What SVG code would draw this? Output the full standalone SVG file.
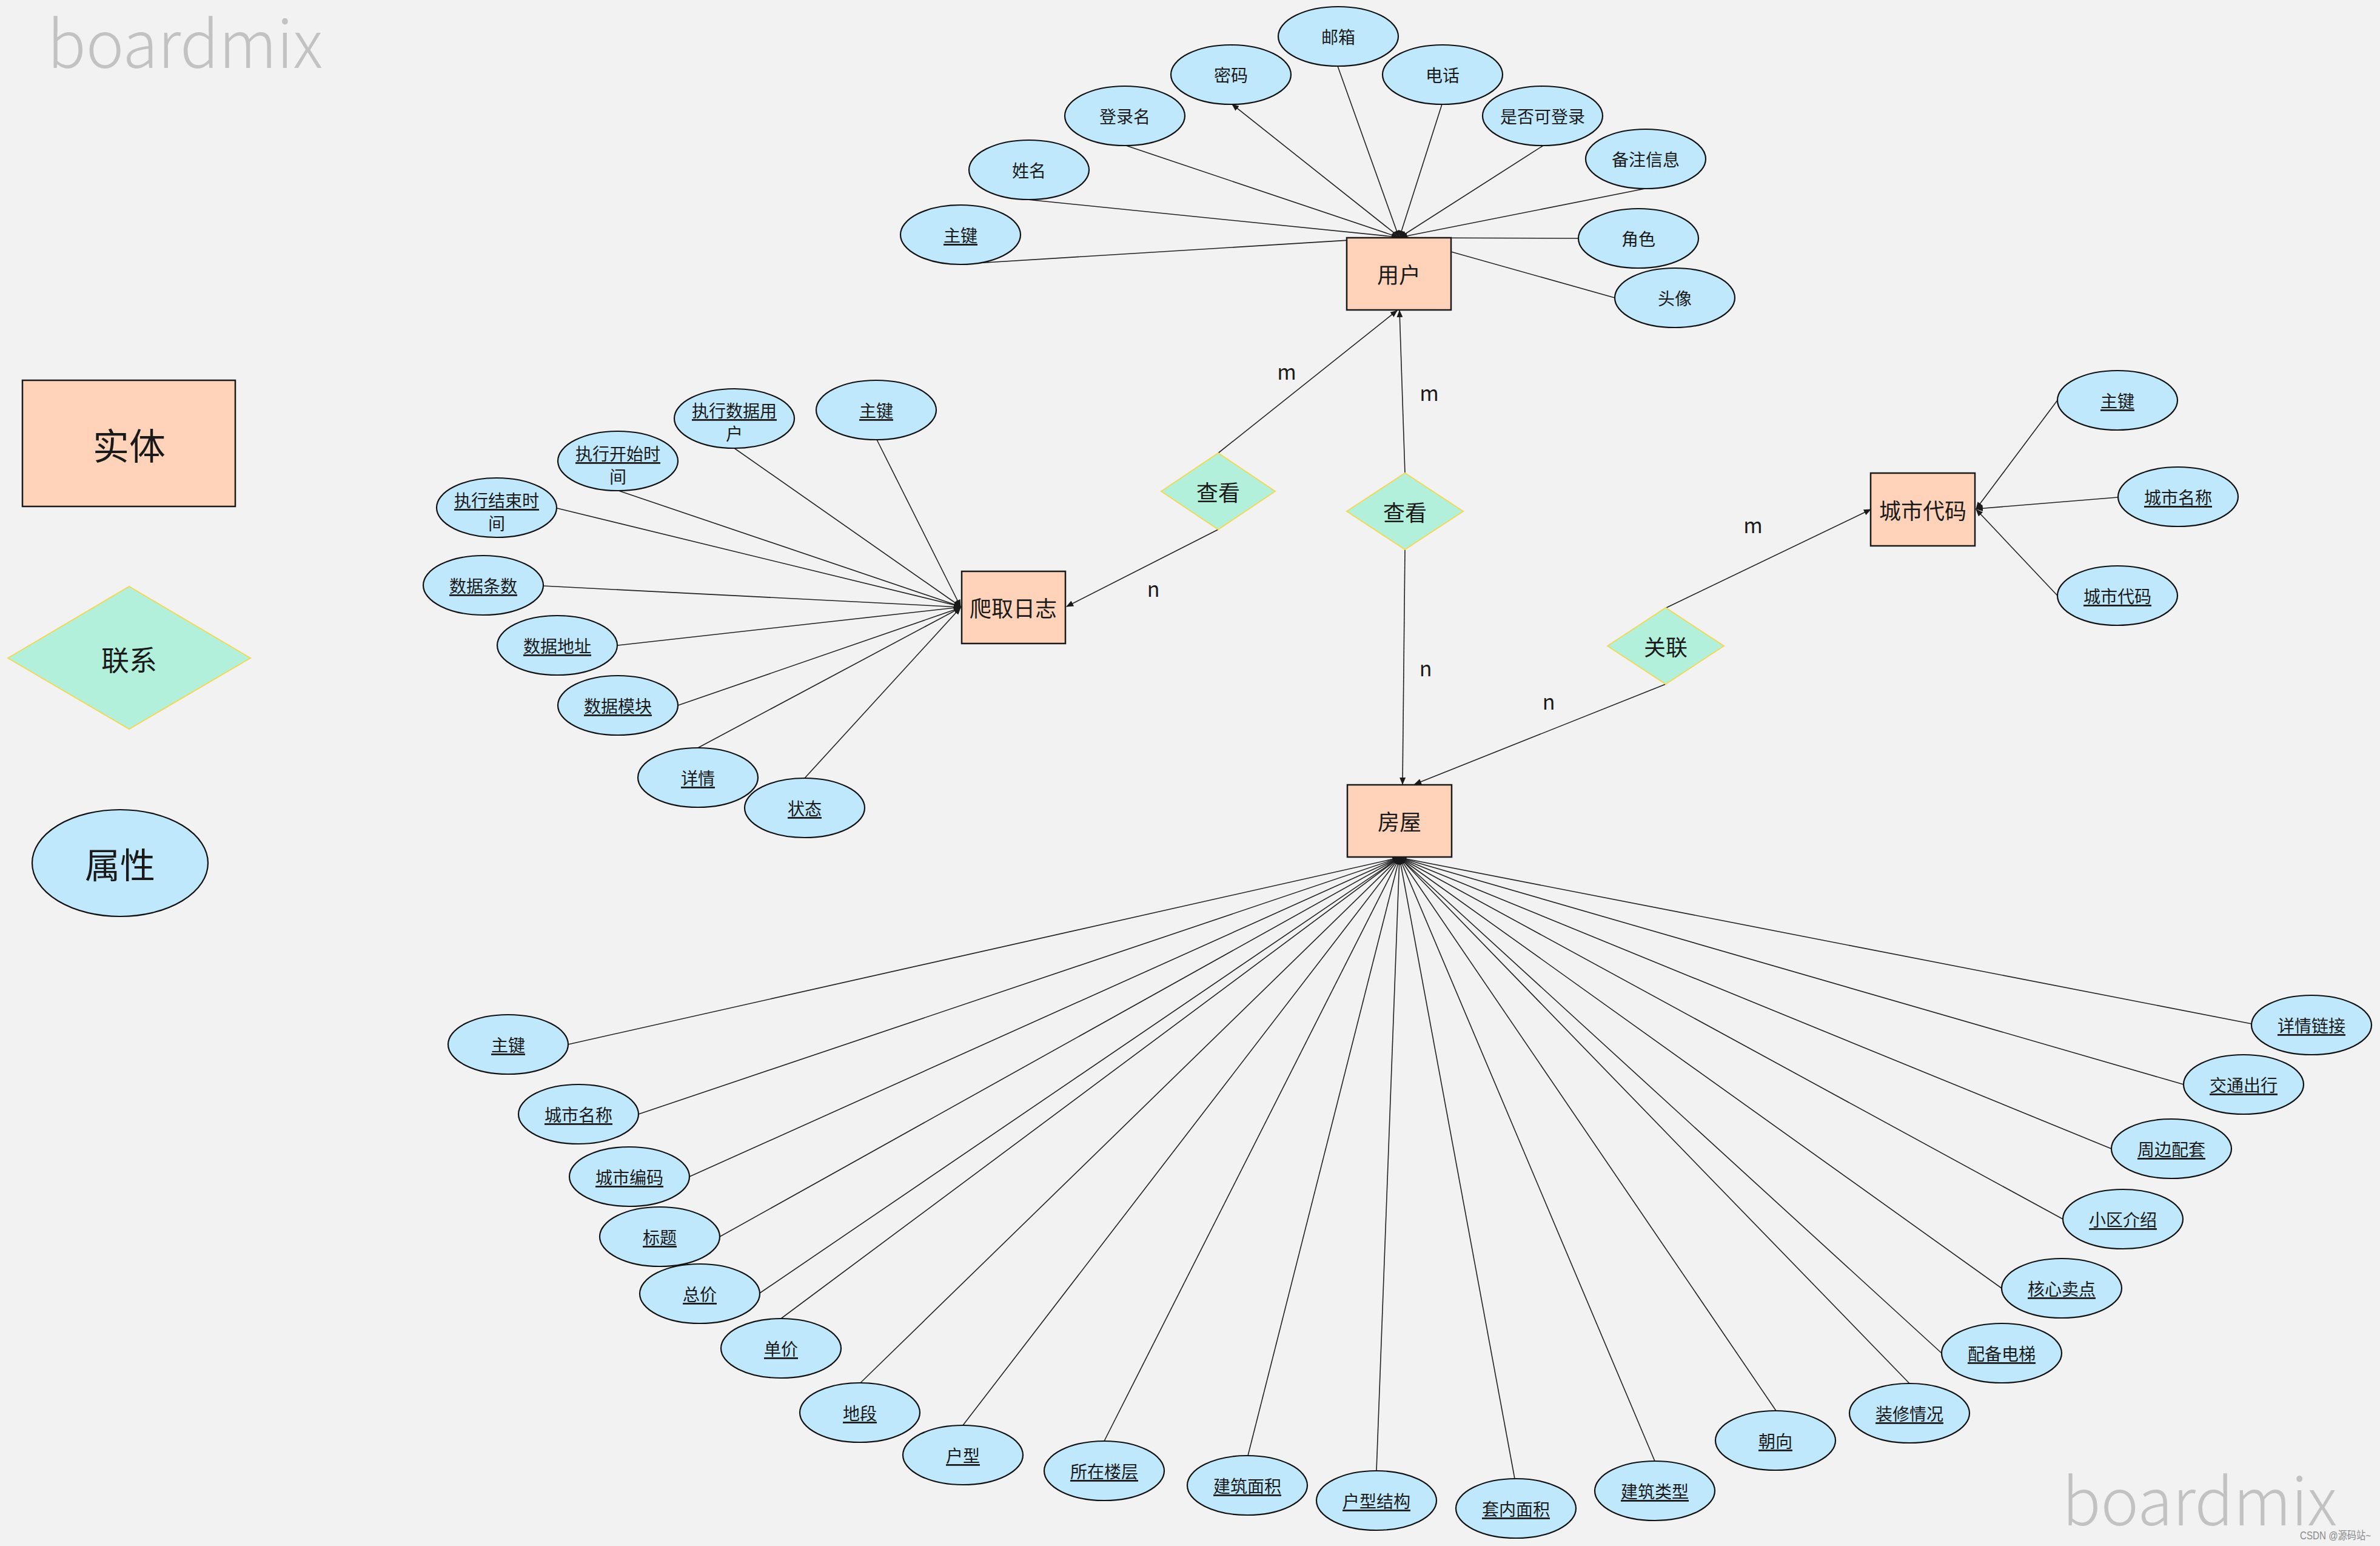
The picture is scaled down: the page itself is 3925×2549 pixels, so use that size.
<svg xmlns="http://www.w3.org/2000/svg" width="3925" height="2549" viewBox="0 0 3925 2549">
<style>
.ent{fill:#fed3ba;stroke:#1a1a1a;stroke-width:2.5}
.rel{fill:#b3f0dc;stroke:#f0d95a;stroke-width:2}
.attr{fill:#c0e8fd;stroke:#111;stroke-width:2.2}
.t{font-family:"Noto Sans CJK SC","Noto Sans",sans-serif;fill:#1a1a1a;text-anchor:middle;dominant-baseline:central}
.a{font-size:28px}
.u{text-decoration:underline}
.e{font-size:36px}
.lbl{font-size:34px}
.wm{font-family:"Noto Sans CJK SC","Noto Sans",sans-serif;font-weight:300;fill:#c2c2c2;font-size:108px}
.c{stroke:#222;stroke-width:1.6;fill:none}
.ca{stroke:#222;stroke-width:1.6;fill:none;marker-end:url(#arr)}
</style>
<defs>
<marker id="arr" markerUnits="userSpaceOnUse" markerWidth="12" markerHeight="10" refX="11" refY="5" orient="auto">
<path d="M0,0 L12,5 L0,10 z" fill="#1a1a1a"/>
</marker>
</defs>
<rect x="0" y="0" width="3925" height="2549" fill="#f2f2f2"/>
<text class="wm" x="78" y="112" textLength="454" lengthAdjust="spacingAndGlyphs">boardmix</text>
<text class="wm" x="3401" y="2515" textLength="453" lengthAdjust="spacingAndGlyphs">boardmix</text>
<text x="3793" y="2538" font-family="Liberation Sans, Noto Sans CJK SC, sans-serif" font-size="18" fill="#8a8a8a" textLength="117" lengthAdjust="spacingAndGlyphs">CSDN @源码站~</text>

<g id="connectors">
<!-- user attributes -->
<line class="ca" x1="1608" y1="434" x2="2306" y2="391"/>
<line class="ca" x1="1694" y1="329" x2="2306" y2="391"/>
<line class="ca" x1="1857" y1="240" x2="2306" y2="391"/>
<line class="ca" x1="2308" y1="391" x2="2032" y2="172"/>
<line class="ca" x1="2206" y1="109" x2="2307" y2="391"/>
<line class="ca" x1="2378" y1="172" x2="2308" y2="391"/>
<line class="ca" x1="2545" y1="240" x2="2309" y2="391"/>
<line class="ca" x1="2713" y1="311" x2="2310" y2="391"/>
<line class="c" x1="2603" y1="393" x2="2310" y2="392"/>
<line class="ca" x1="2663" y1="491" x2="2311" y2="392"/>
<!-- crawl log attributes -->
<line class="ca" x1="1446" y1="725" x2="1584" y2="1000"/>
<line class="ca" x1="1211" y1="739" x2="1584" y2="1000"/>
<line class="ca" x1="1020" y1="809" x2="1584" y2="1000"/>
<line class="ca" x1="919" y1="838" x2="1584" y2="1000"/>
<line class="ca" x1="896" y1="966" x2="1584" y2="1001"/>
<line class="ca" x1="1019" y1="1064" x2="1584" y2="1001"/>
<line class="ca" x1="1118" y1="1163" x2="1584" y2="1002"/>
<line class="ca" x1="1151" y1="1233" x2="1584" y2="1002"/>
<line class="ca" x1="1327" y1="1283" x2="1584" y2="1002"/>
<!-- city attributes -->
<line class="ca" x1="3393" y1="660" x2="3259" y2="839"/>
<line class="ca" x1="3492" y1="820" x2="3259" y2="839"/>
<line class="ca" x1="3393" y1="982" x2="3259" y2="840"/>
<!-- relationships -->
<line class="ca" x1="2009" y1="747" x2="2304" y2="512"/>
<line class="ca" x1="2009" y1="873" x2="1759" y2="1000"/>
<line class="ca" x1="2317" y1="780" x2="2308" y2="512"/>
<line class="ca" x1="2317" y1="906" x2="2313" y2="1293"/>
<line class="ca" x1="2748" y1="1002" x2="3085" y2="840"/>
<line class="ca" x1="2747" y1="1128" x2="2333" y2="1293"/>
<!-- house attributes -->
<line class="ca" x1="937" y1="1722" x2="2308" y2="1414"/>
<line class="ca" x1="1053" y1="1837" x2="2308" y2="1414"/>
<line class="ca" x1="1137" y1="1940" x2="2308" y2="1414"/>
<line class="ca" x1="1187" y1="2039" x2="2308" y2="1414"/>
<line class="ca" x1="1253" y1="2132" x2="2308" y2="1414"/>
<line class="ca" x1="1288" y1="2174" x2="2308" y2="1414"/>
<line class="ca" x1="1419" y1="2280" x2="2308" y2="1414"/>
<line class="ca" x1="1588" y1="2350" x2="2308" y2="1414"/>
<line class="ca" x1="1821" y1="2376" x2="2308" y2="1414"/>
<line class="ca" x1="2058" y1="2400" x2="2308" y2="1414"/>
<line class="ca" x1="2270" y1="2425" x2="2308" y2="1414"/>
<line class="ca" x1="2498" y1="2438" x2="2308" y2="1414"/>
<line class="ca" x1="2729" y1="2409" x2="2308" y2="1414"/>
<line class="ca" x1="2929" y1="2326" x2="2308" y2="1414"/>
<line class="ca" x1="3149" y1="2281" x2="2308" y2="1414"/>
<line class="ca" x1="3202" y1="2231" x2="2308" y2="1414"/>
<line class="ca" x1="3301" y1="2124" x2="2308" y2="1414"/>
<line class="ca" x1="3402" y1="2010" x2="2308" y2="1414"/>
<line class="ca" x1="3482" y1="1894" x2="2308" y2="1414"/>
<line class="ca" x1="3601" y1="1788" x2="2308" y2="1414"/>
<line class="ca" x1="3713" y1="1688" x2="2308" y2="1414"/>
<!-- cardinality labels -->
<text class="t lbl" x="2122" y="611">m</text>
<text class="t lbl" x="2357" y="646">m</text>
<text class="t lbl" x="1902" y="969">n</text>
<text class="t lbl" x="2351" y="1100">n</text>
<text class="t lbl" x="2891" y="864">m</text>
<text class="t lbl" x="2554" y="1155">n</text>
</g>

<!-- legend -->
<g id="legend-entity"><rect class="ent" x="37" y="627" width="351" height="208"/><text class="t" x="213" y="731" font-size="60">实体</text></g>
<g id="legend-relation"><polygon class="rel" points="13,1085 213,967 413,1085 213,1202"/><text class="t" x="213" y="1085" font-size="46">联系</text></g>
<g id="legend-attr"><ellipse class="attr" cx="198" cy="1423" rx="145" ry="88"/><text class="t" x="198" y="1423" font-size="58">属性</text></g>

<!-- entities -->
<g id="user"><rect class="ent" x="2221" y="392" width="172" height="119"/><text class="t e" x="2307" y="451">用户</text></g>
<g id="crawl-log"><rect class="ent" x="1586" y="942" width="171" height="119"/><text class="t e" x="1671" y="1001">爬取日志</text></g>
<g id="city"><rect class="ent" x="3085" y="780" width="172" height="120"/><text class="t e" x="3171" y="840">城市代码</text></g>
<g id="house"><rect class="ent" x="2222" y="1294" width="172" height="119"/><text class="t e" x="2308" y="1353">房屋</text></g>

<!-- relationships -->
<g id="rel-view1"><polygon class="rel" points="1915,810 2009,747 2103,810 2009,873"/><text class="t e" x="2009" y="810">查看</text></g>
<g id="rel-view2"><polygon class="rel" points="2221,843 2317,780 2413,843 2317,906"/><text class="t e" x="2317" y="843">查看</text></g>
<g id="rel-assoc"><polygon class="rel" points="2651,1065 2747,1002 2843,1065 2747,1128"/><text class="t e" x="2747" y="1065">关联</text></g>

<!-- user attributes -->
<g id="u-pk"><ellipse class="attr" cx="1584" cy="387" rx="99" ry="49"/><text class="t a u" x="1584" y="387">主键</text></g>
<g id="u-name"><ellipse class="attr" cx="1697" cy="280" rx="99" ry="49"/><text class="t a" x="1697" y="280">姓名</text></g>
<g id="u-login"><ellipse class="attr" cx="1855" cy="191" rx="99" ry="49"/><text class="t a" x="1855" y="191">登录名</text></g>
<g id="u-pwd"><ellipse class="attr" cx="2030" cy="123" rx="99" ry="49"/><text class="t a" x="2030" y="123">密码</text></g>
<g id="u-email"><ellipse class="attr" cx="2207" cy="60" rx="99" ry="49"/><text class="t a" x="2207" y="60">邮箱</text></g>
<g id="u-phone"><ellipse class="attr" cx="2379" cy="123" rx="99" ry="49"/><text class="t a" x="2379" y="123">电话</text></g>
<g id="u-canlogin"><ellipse class="attr" cx="2544" cy="191" rx="99" ry="49"/><text class="t a" x="2544" y="191">是否可登录</text></g>
<g id="u-remark"><ellipse class="attr" cx="2714" cy="262" rx="99" ry="49"/><text class="t a" x="2714" y="262">备注信息</text></g>
<g id="u-role"><ellipse class="attr" cx="2702" cy="393" rx="99" ry="49"/><text class="t a" x="2702" y="393">角色</text></g>
<g id="u-avatar"><ellipse class="attr" cx="2762" cy="491" rx="99" ry="49"/><text class="t a" x="2762" y="491">头像</text></g>

<!-- crawl log attributes -->
<g id="l-pk"><ellipse class="attr" cx="1445" cy="676" rx="99" ry="49"/><text class="t a u" x="1445" y="676">主键</text></g>
<g id="l-user"><ellipse class="attr" cx="1211" cy="690" rx="99" ry="49"/><text class="t a u" x="1211" y="676">执行数据用</text><text class="t a" x="1211" y="714">户</text></g>
<g id="l-start"><ellipse class="attr" cx="1019" cy="760" rx="99" ry="49"/><text class="t a u" x="1019" y="747">执行开始时</text><text class="t a" x="1019" y="785">间</text></g>
<g id="l-end"><ellipse class="attr" cx="819" cy="837" rx="99" ry="49"/><text class="t a u" x="819" y="824">执行结束时</text><text class="t a" x="819" y="862">间</text></g>
<g id="l-count"><ellipse class="attr" cx="797" cy="965" rx="99" ry="49"/><text class="t a u" x="797" y="965">数据条数</text></g>
<g id="l-addr"><ellipse class="attr" cx="919" cy="1064" rx="99" ry="49"/><text class="t a u" x="919" y="1064">数据地址</text></g>
<g id="l-module"><ellipse class="attr" cx="1019" cy="1163" rx="99" ry="49"/><text class="t a u" x="1019" y="1163">数据模块</text></g>
<g id="l-detail"><ellipse class="attr" cx="1151" cy="1282" rx="99" ry="49"/><text class="t a u" x="1151" y="1282">详情</text></g>
<g id="l-status"><ellipse class="attr" cx="1327" cy="1332" rx="99" ry="49"/><text class="t a u" x="1327" y="1332">状态</text></g>

<!-- city attributes -->
<g id="c-pk"><ellipse class="attr" cx="3492" cy="660" rx="99" ry="49"/><text class="t a u" x="3492" y="660">主键</text></g>
<g id="c-name"><ellipse class="attr" cx="3592" cy="819" rx="99" ry="49"/><text class="t a u" x="3592" y="819">城市名称</text></g>
<g id="c-code"><ellipse class="attr" cx="3492" cy="982" rx="99" ry="49"/><text class="t a u" x="3492" y="982">城市代码</text></g>

<!-- house attributes -->
<g id="h-pk"><ellipse class="attr" cx="838" cy="1722" rx="99" ry="49"/><text class="t a u" x="838" y="1722">主键</text></g>
<g id="h-cityname"><ellipse class="attr" cx="954" cy="1837" rx="99" ry="49"/><text class="t a u" x="954" y="1837">城市名称</text></g>
<g id="h-citycode"><ellipse class="attr" cx="1038" cy="1940" rx="99" ry="49"/><text class="t a u" x="1038" y="1940">城市编码</text></g>
<g id="h-title"><ellipse class="attr" cx="1088" cy="2039" rx="99" ry="49"/><text class="t a u" x="1088" y="2039">标题</text></g>
<g id="h-total"><ellipse class="attr" cx="1154" cy="2133" rx="99" ry="49"/><text class="t a u" x="1154" y="2133">总价</text></g>
<g id="h-unit"><ellipse class="attr" cx="1288" cy="2223" rx="99" ry="49"/><text class="t a u" x="1288" y="2223">单价</text></g>
<g id="h-area"><ellipse class="attr" cx="1418" cy="2329" rx="99" ry="49"/><text class="t a u" x="1418" y="2329">地段</text></g>
<g id="h-type"><ellipse class="attr" cx="1588" cy="2399" rx="99" ry="49"/><text class="t a u" x="1588" y="2399">户型</text></g>
<g id="h-floor"><ellipse class="attr" cx="1821" cy="2425" rx="99" ry="49"/><text class="t a u" x="1821" y="2425">所在楼层</text></g>
<g id="h-barea"><ellipse class="attr" cx="2057" cy="2449" rx="99" ry="49"/><text class="t a u" x="2057" y="2449">建筑面积</text></g>
<g id="h-struct"><ellipse class="attr" cx="2270" cy="2474" rx="99" ry="49"/><text class="t a u" x="2270" y="2474">户型结构</text></g>
<g id="h-inner"><ellipse class="attr" cx="2500" cy="2487" rx="99" ry="49"/><text class="t a u" x="2500" y="2487">套内面积</text></g>
<g id="h-btype"><ellipse class="attr" cx="2729" cy="2458" rx="99" ry="49"/><text class="t a u" x="2729" y="2458">建筑类型</text></g>
<g id="h-orient"><ellipse class="attr" cx="2928" cy="2375" rx="99" ry="49"/><text class="t a u" x="2928" y="2375">朝向</text></g>
<g id="h-deco"><ellipse class="attr" cx="3149" cy="2330" rx="99" ry="49"/><text class="t a u" x="3149" y="2330">装修情况</text></g>
<g id="h-elev"><ellipse class="attr" cx="3301" cy="2231" rx="99" ry="49"/><text class="t a u" x="3301" y="2231">配备电梯</text></g>
<g id="h-selling"><ellipse class="attr" cx="3400" cy="2124" rx="99" ry="49"/><text class="t a u" x="3400" y="2124">核心卖点</text></g>
<g id="h-community"><ellipse class="attr" cx="3501" cy="2010" rx="99" ry="49"/><text class="t a u" x="3501" y="2010">小区介绍</text></g>
<g id="h-around"><ellipse class="attr" cx="3581" cy="1894" rx="99" ry="49"/><text class="t a u" x="3581" y="1894">周边配套</text></g>
<g id="h-traffic"><ellipse class="attr" cx="3700" cy="1788" rx="99" ry="49"/><text class="t a u" x="3700" y="1788">交通出行</text></g>
<g id="h-link"><ellipse class="attr" cx="3812" cy="1690" rx="99" ry="49"/><text class="t a u" x="3812" y="1690">详情链接</text></g>
</svg>
